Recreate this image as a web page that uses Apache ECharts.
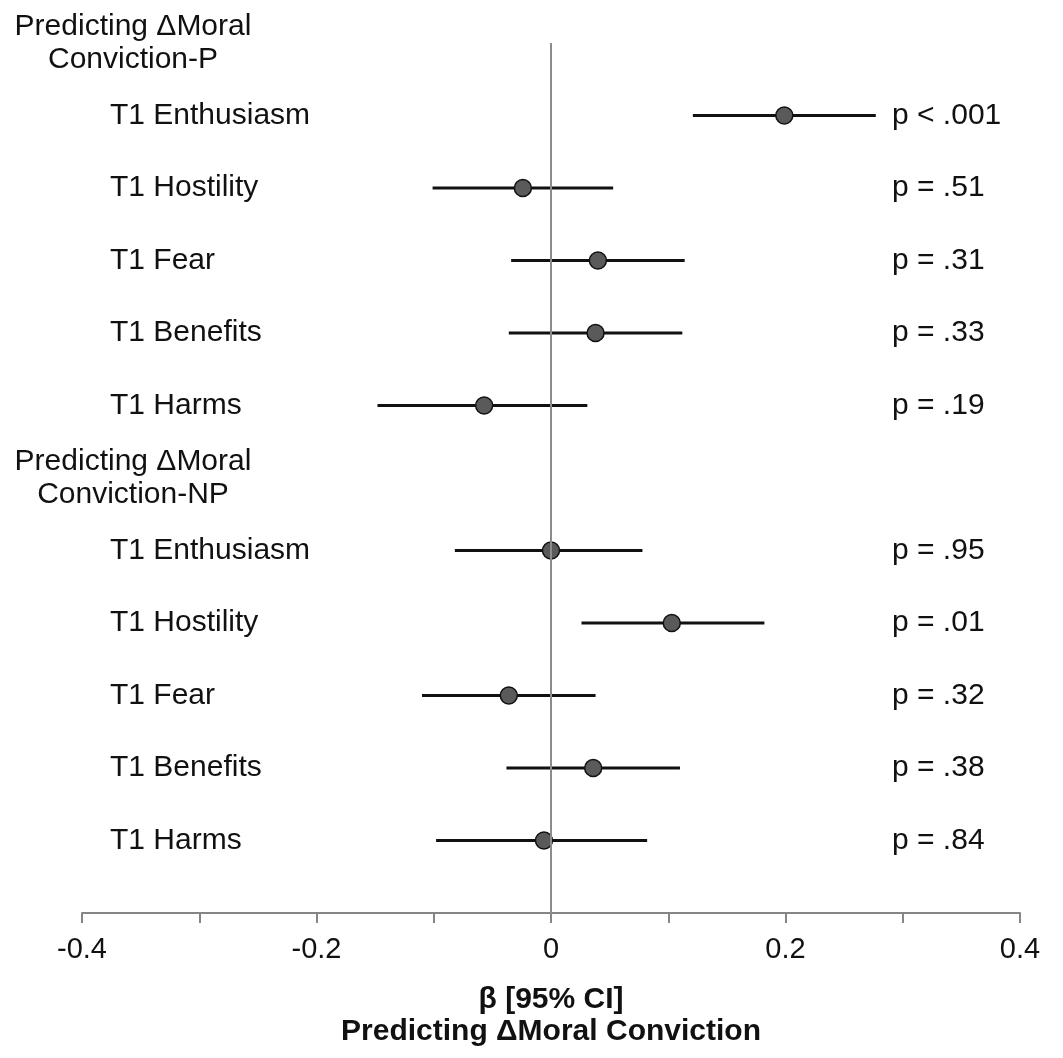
<!DOCTYPE html>
<html>
<head>
<meta charset="utf-8">
<title>Predicting ΔMoral Conviction</title>
<script src="https://cdn.jsdelivr.net/npm/echarts@6/dist/echarts.min.js"></script>
<style>
  html, body { margin: 0; padding: 0; background: #fff; }
  #chart { width: 1063px; height: 1058px; }
</style>
</head>
<body>
<div id="chart"></div>
<script>
// group headers and predictors (top to bottom)
const groupLabels = ['Predicting ΔMoral\nConviction-P', 'Predicting ΔMoral\nConviction-NP'];
const predictors = [
  'T1 Enthusiasm', 'T1 Hostility', 'T1 Fear', 'T1 Benefits', 'T1 Harms',
  'T1 Enthusiasm', 'T1 Hostility', 'T1 Fear', 'T1 Benefits', 'T1 Harms'
];
// beta and 95% CI
const beta   = [0.199, -0.024, 0.040, 0.038, -0.057, 0.000, 0.103, -0.036, 0.036, -0.006];
const ciLow  = [0.121, -0.101, -0.034, -0.036, -0.148, -0.082, 0.026, -0.110, -0.038, -0.098];
const ciHigh = [0.277, 0.053, 0.114, 0.112, 0.031, 0.078, 0.182, 0.038, 0.110, 0.082];
const pLabels = ['p < .001', 'p = .51', 'p = .31', 'p = .33', 'p = .19',
                 'p = .95', 'p = .01', 'p = .32', 'p = .38', 'p = .84'];
const xTicks = [-0.4, -0.2, 0, 0.2, 0.4];

// slot on the y axis: header row 0, 5 predictors, header row 6, 5 predictors
const slotOf = i => (i < 5 ? i + 1 : i + 2);
const headerSlots = [0, 6];
const rowText = {};
const pText = {};
predictors.forEach((name, i) => { rowText[slotOf(i)] = name; pText[slotOf(i)] = pLabels[i]; });
const headerText = {};
headerSlots.forEach((s, k) => { headerText[s] = groupLabels[k]; });

const ciData = beta.map((b, i) => [ciLow[i], ciHigh[i], slotOf(i)]);
const pointData = beta.map((b, i) => [b, slotOf(i)]);

const FONT = '"Liberation Sans", Arial, sans-serif';
const textBase = { color: '#111', fontFamily: FONT, fontSize: 30 };

function labelAxis(map, position, align, margin) {
  return {
    type: 'value',
    position: position,
    inverse: true,
    min: 0,
    max: 12,
    interval: 1,
    axisLine: { show: false },
    axisTick: { show: false },
    splitLine: { show: false },
    axisLabel: Object.assign({}, textBase, {
      align: align,
      margin: margin,
      lineHeight: 33,
      formatter: v => map[v] || ''
    })
  };
}

const chart = echarts.init(document.getElementById('chart'), null, { renderer: 'canvas' });

const option = {
  animation: false,
  backgroundColor: '#fff',
  grid: { left: 82, right: 43, top: 43, bottom: 145, outerBoundsMode: 'none' },
  xAxis: {
    type: 'value',
    position: 'bottom',
    min: xTicks[0],
    max: xTicks[xTicks.length - 1],
    interval: 0.2,
    axisLine: { show: true, onZero: false, lineStyle: { color: '#868686', width: 2 } },
    axisTick: { show: true, length: 10, lineStyle: { color: '#868686', width: 2 } },
    minorTick: { show: true, splitNumber: 2, length: 10, lineStyle: { color: '#868686', width: 2 } },
    splitLine: { show: false },
    axisLabel: Object.assign({}, textBase, { fontSize: 29, margin: 22 }),
    name: 'β [95% CI]\nPredicting ΔMoral Conviction',
    nameLocation: 'middle',
    nameGap: 71,
    nameTextStyle: Object.assign({}, textBase, { fontWeight: 'bold', lineHeight: 32 })
  },
  yAxis: [
    labelAxis(rowText, 'left', 'left', 82 - 110),
    labelAxis(headerText, 'left', 'center', 82 - 133),
    labelAxis(pText, 'right', 'left', 892 - 1020)
  ],
  series: [
    {
      // zero reference line
      type: 'line',
      data: [],
      z: 1,
      markLine: {
        silent: true,
        symbol: 'none',
        label: { show: false },
        lineStyle: { color: '#8c8c8c', width: 2, type: 'solid' },
        data: [{ xAxis: 0 }]
      }
    },
    {
      type: 'custom',
      z: 2,
      data: ciData,
      encode: { x: [0, 1], y: 2 },
      renderItem: function (params, api) {
        var start = api.coord([api.value(0), api.value(2)]);
        var end = api.coord([api.value(1), api.value(2)]);
        return {
          type: 'line',
          shape: { x1: start[0], y1: start[1], x2: end[0], y2: end[1] },
          style: { stroke: '#111', lineWidth: 3 }
        };
      }
    },
    {
      type: 'scatter',
      z: 3,
      data: pointData,
      symbol: 'circle',
      symbolSize: 17,
      itemStyle: { color: '#5a5a5a', borderColor: '#111', borderWidth: 1.5, opacity: 1 }
    }
  ]
};

chart.setOption(option);
</script>
</body>
</html>
